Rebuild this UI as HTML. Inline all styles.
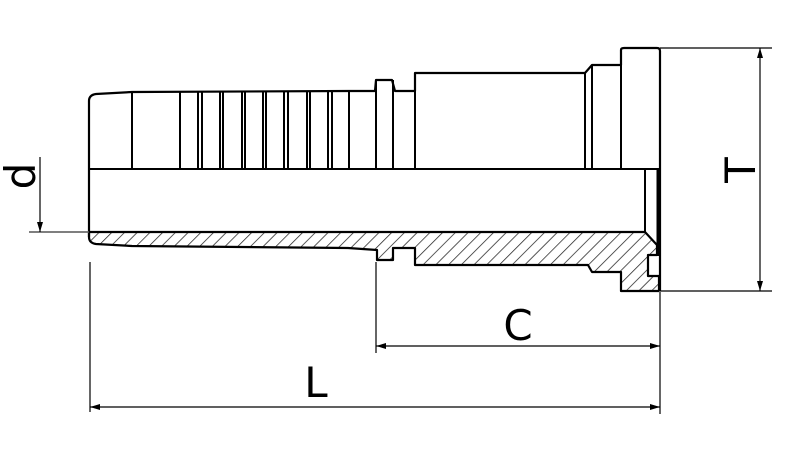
<!DOCTYPE html>
<html><head><meta charset="utf-8"><style>
html,body{margin:0;padding:0;background:#fff}
svg{display:block}
text{font-family:"DejaVu Sans","Liberation Sans",sans-serif;fill:#000}
</style></head><body>
<svg width="797" height="451" viewBox="0 0 797 451" xmlns="http://www.w3.org/2000/svg">
<defs>
<pattern id="h" patternUnits="userSpaceOnUse" width="9" height="9" patternTransform="rotate(45)">
<line x1="0" y1="0" x2="0" y2="9" stroke="#222" stroke-width="1.5"/>
</pattern>
<marker id="a" markerWidth="10" markerHeight="6" refX="10" refY="3" orient="auto" markerUnits="userSpaceOnUse">
<path d="M0,0 L10,3 L0,6 Z" fill="#000"/>
</marker>
<marker id="as" markerWidth="10" markerHeight="6" refX="0" refY="3" orient="auto" markerUnits="userSpaceOnUse">
<path d="M10,0 L0,3 L10,6 Z" fill="#000"/>
</marker>
</defs>
<path d="M89,232 L645,232 L657,245 L657,255 L648,255 L648,276 L659,276 L659,291 L621,291 L621,272 L592,272 L588,265 L415,265 L415,248 L393,248 L393,260 L377,260 L377,250 L348,248 L132,246 L96,244 Q89,243 89,237 Z" fill="url(#h)" stroke="#000" stroke-width="2.2" stroke-linejoin="round"/>
<path d="M89,237 L89,101 Q89,95 96,94 L132,92 L348,91 L375,91 L376,80 L392,80 L395,91 L415,91 L415,73 L585,73 L592,65 L621,65 L621,50 Q621,48 624,48 L657,48 Q660,48 660,51 L660,291" fill="none" stroke="#000" stroke-width="2.2" stroke-linejoin="round"/>
<g stroke="#000" stroke-width="2">
<line x1="89" y1="169" x2="660" y2="169"/>
<line x1="645" y1="169" x2="645" y2="232"/>
<line x1="132" y1="92" x2="132" y2="169"/>
<line x1="180" y1="92" x2="180" y2="169"/>
<line x1="198" y1="92" x2="198" y2="169"/>
<line x1="202" y1="92" x2="202" y2="169"/>
<line x1="220" y1="92" x2="220" y2="169"/>
<line x1="223" y1="92" x2="223" y2="169"/>
<line x1="242" y1="92" x2="242" y2="169"/>
<line x1="245" y1="92" x2="245" y2="169"/>
<line x1="263" y1="92" x2="263" y2="169"/>
<line x1="266" y1="92" x2="266" y2="169"/>
<line x1="284" y1="92" x2="284" y2="169"/>
<line x1="288" y1="92" x2="288" y2="169"/>
<line x1="307" y1="92" x2="307" y2="169"/>
<line x1="310" y1="92" x2="310" y2="169"/>
<line x1="328" y1="92" x2="328" y2="169"/>
<line x1="332" y1="92" x2="332" y2="169"/>
<line x1="349" y1="91" x2="349" y2="169"/>
<line x1="376" y1="80" x2="376" y2="169"/>
<line x1="393" y1="80" x2="393" y2="169"/>
<line x1="415" y1="73" x2="415" y2="169"/>
<line x1="585" y1="73" x2="585" y2="169"/>
<line x1="592" y1="65" x2="592" y2="169"/>
<line x1="621" y1="65" x2="621" y2="169"/>
</g>
<line x1="658" y1="169" x2="658" y2="256" stroke="#000" stroke-width="3"/>
<g stroke="#000" stroke-width="1.2" fill="none">
<line x1="29" y1="232" x2="89" y2="232" stroke="#555" stroke-width="1.5"/>
<line x1="40" y1="157" x2="40" y2="232" marker-end="url(#a)"/>
<line x1="660" y1="48" x2="772" y2="48"/>
<line x1="660" y1="291" x2="772" y2="291"/>
<line x1="760" y1="48" x2="760" y2="291" marker-start="url(#as)" marker-end="url(#a)"/>
<line x1="90" y1="262" x2="90" y2="412"/>
<line x1="376" y1="262" x2="376" y2="353"/>
<line x1="660" y1="291" x2="660" y2="414" stroke="#666" stroke-width="2"/>
<line x1="376" y1="346" x2="660" y2="346" marker-start="url(#as)" marker-end="url(#a)"/>
<line x1="90" y1="407" x2="660" y2="407" marker-start="url(#as)" marker-end="url(#a)"/>
</g>
<text x="0" y="0" font-size="42" text-anchor="middle" transform="translate(35,176) rotate(-90)">d</text>
<text x="0" y="0" font-size="42" text-anchor="middle" transform="translate(755,170) rotate(-90)">T</text>
<text x="518" y="340" font-size="42" text-anchor="middle">C</text>
<text x="316" y="397" font-size="42" text-anchor="middle">L</text>
</svg>
</body></html>
